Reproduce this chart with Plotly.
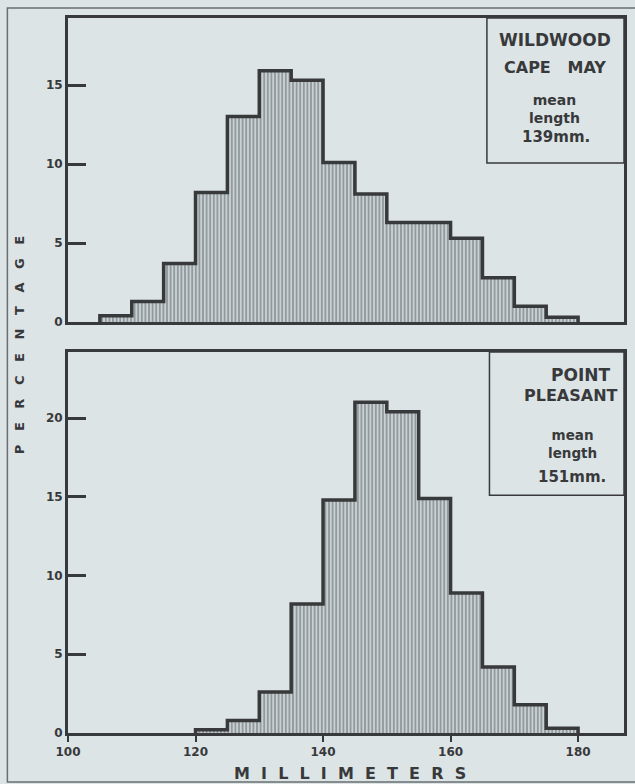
import plotly.graph_objects as go

# ---- data ----
bin_width = 5
top_bin_starts = [105, 110, 115, 120, 125, 130, 135, 140, 145, 150, 155, 160, 165, 170, 175]
top_percent = [0.4, 1.3, 3.7, 8.2, 13.0, 15.9, 15.3, 10.1, 8.1, 6.3, 6.3, 5.3, 2.8, 1.0, 0.3]

bot_bin_starts = [120, 125, 130, 135, 140, 145, 150, 155, 160, 165, 170, 175]
bot_percent = [0.2, 0.8, 2.6, 8.2, 14.8, 21.0, 20.4, 14.9, 8.9, 4.2, 1.8, 0.3]

x_ticks = [100, 120, 140, 160, 180]
top_y_ticks = [0, 5, 10, 15]
bot_y_ticks = [0, 5, 10, 15, 20]

top_label = ["WILDWOOD", "CAPE\u00a0\u00a0\u00a0MAY", "mean<br>length", "139mm."]
bot_label = ["POINT", "PLEASANT", "mean<br>length", "151mm."]
x_title = "MILLIMETERS"
y_title = "PERCENTAGE"

# ---- style ----
BG = "#dde4e6"
INK = "#38393b"
FONT = "DejaVu Sans"
pattern = dict(shape="|", size=3.6, solidity=0.5, fgcolor="#5e6468", bgcolor="#c9d0d3")


def outline(starts, vals):
    xs = [starts[0]] + list(starts) + [starts[-1] + bin_width]
    ys = [0] + list(vals) + [0]
    return xs, ys


fig = go.Figure()

for starts, vals, xa, ya in [(top_bin_starts, top_percent, "x", "y"),
                             (bot_bin_starts, bot_percent, "x2", "y2")]:
    centers = [s + bin_width / 2 for s in starts]
    fig.add_trace(go.Bar(x=centers, y=vals, width=bin_width, xaxis=xa, yaxis=ya,
                         marker=dict(color="#c9d0d3", pattern=pattern, line=dict(width=0)),
                         showlegend=False, hoverinfo="skip"))
    ox, oy = outline(starts, vals)
    fig.add_trace(go.Scatter(x=ox, y=oy, mode="lines", line=dict(color=INK, width=3.5, shape="hv"),
                             xaxis=xa, yaxis=ya, showlegend=False, hoverinfo="skip"))

axis_common = dict(showline=True, linewidth=3, linecolor=INK, mirror=True, showgrid=False,
                   zeroline=False, tickfont=dict(family=FONT, size=12, color=INK, weight="bold"))

fig.update_layout(
    width=635, height=784,
    paper_bgcolor=BG, plot_bgcolor=BG,
    margin=dict(l=68, r=8, t=18, b=51, pad=0),
    bargap=0,
    xaxis=dict(domain=[0, 1], range=[100, 187.2], anchor="y", showticklabels=False,
               ticks="", **axis_common),
    yaxis=dict(domain=[0.5748, 1], range=[0, 19.24], anchor="x", tickvals=top_y_ticks,
               ticks="inside", ticklen=18, tickwidth=3, tickcolor=INK, **axis_common),
    xaxis2=dict(domain=[0, 1], range=[100, 187.2], anchor="y2", tickvals=x_ticks,
                ticks="outside", ticklen=6, tickwidth=2, tickcolor=INK, **axis_common),
    yaxis2=dict(domain=[0, 0.5329], range=[0, 24.2], anchor="x2", tickvals=bot_y_ticks,
                ticks="inside", ticklen=18, tickwidth=3, tickcolor=INK, **axis_common),
)

# label boxes
fig.add_shape(type="rect", xref="x", yref="y", x0=165.7, x1=187.2, y0=10.06, y1=19.24,
              line=dict(color=INK, width=1.5), layer="above")
fig.add_shape(type="rect", xref="x2", yref="y2", x0=166.1, x1=187.2, y0=15.1, y1=24.2,
              line=dict(color=INK, width=1.5), layer="above")

# outer border
fig.add_shape(type="rect", xref="paper", yref="paper", x0=-0.109, x1=1.03, y0=-0.0685, y1=1.014,
              line=dict(color="#6a6e70", width=1.5), layer="below")

def ann(text, x, y, xref, yref, size, xanchor="center"):
    fig.add_annotation(text=text, x=x, y=y, xref=xref, yref=yref, showarrow=False,
                       xanchor=xanchor, yanchor="middle",
                       font=dict(family=FONT, size=size, color=INK, weight="bold"))

# top box text
ann(top_label[0], 176.3, 17.85, "x", "y", 17)
ann(top_label[1], 176.3, 16.1, "x", "y", 16)
ann(top_label[2], 176.3, 13.45, "x", "y", 14)
ann(top_label[3], 176.6, 11.7, "x", "y", 15)

# bottom box text
ann(bot_label[0], 185.3, 22.73, "x2", "y2", 17, "right")
ann(bot_label[1], 186.6, 21.46, "x2", "y2", 16, "right")
ann(bot_label[2], 179.1, 18.35, "x2", "y2", 13.5)
ann(bot_label[3], 179.1, 16.25, "x2", "y2", 15)

# axis titles
fig.add_annotation(text=("\u00a0" * 2).join(x_title), x=0.508, y=-0.056, xref="paper", yref="paper",
                   showarrow=False, xanchor="center", yanchor="middle",
                   font=dict(family=FONT, size=16, color=INK, weight="bold"))
fig.add_annotation(text=("\u00a0" * 3).join(y_title), x=-0.0859, y=0.5427, xref="paper", yref="paper",
                   showarrow=False, xanchor="center", yanchor="middle", textangle=-90,
                   font=dict(family=FONT, size=13, color=INK, weight="bold"))

fig.write_html("out.html", config={"displayModeBar": False},
               post_script="document.body.style.margin='0';")
